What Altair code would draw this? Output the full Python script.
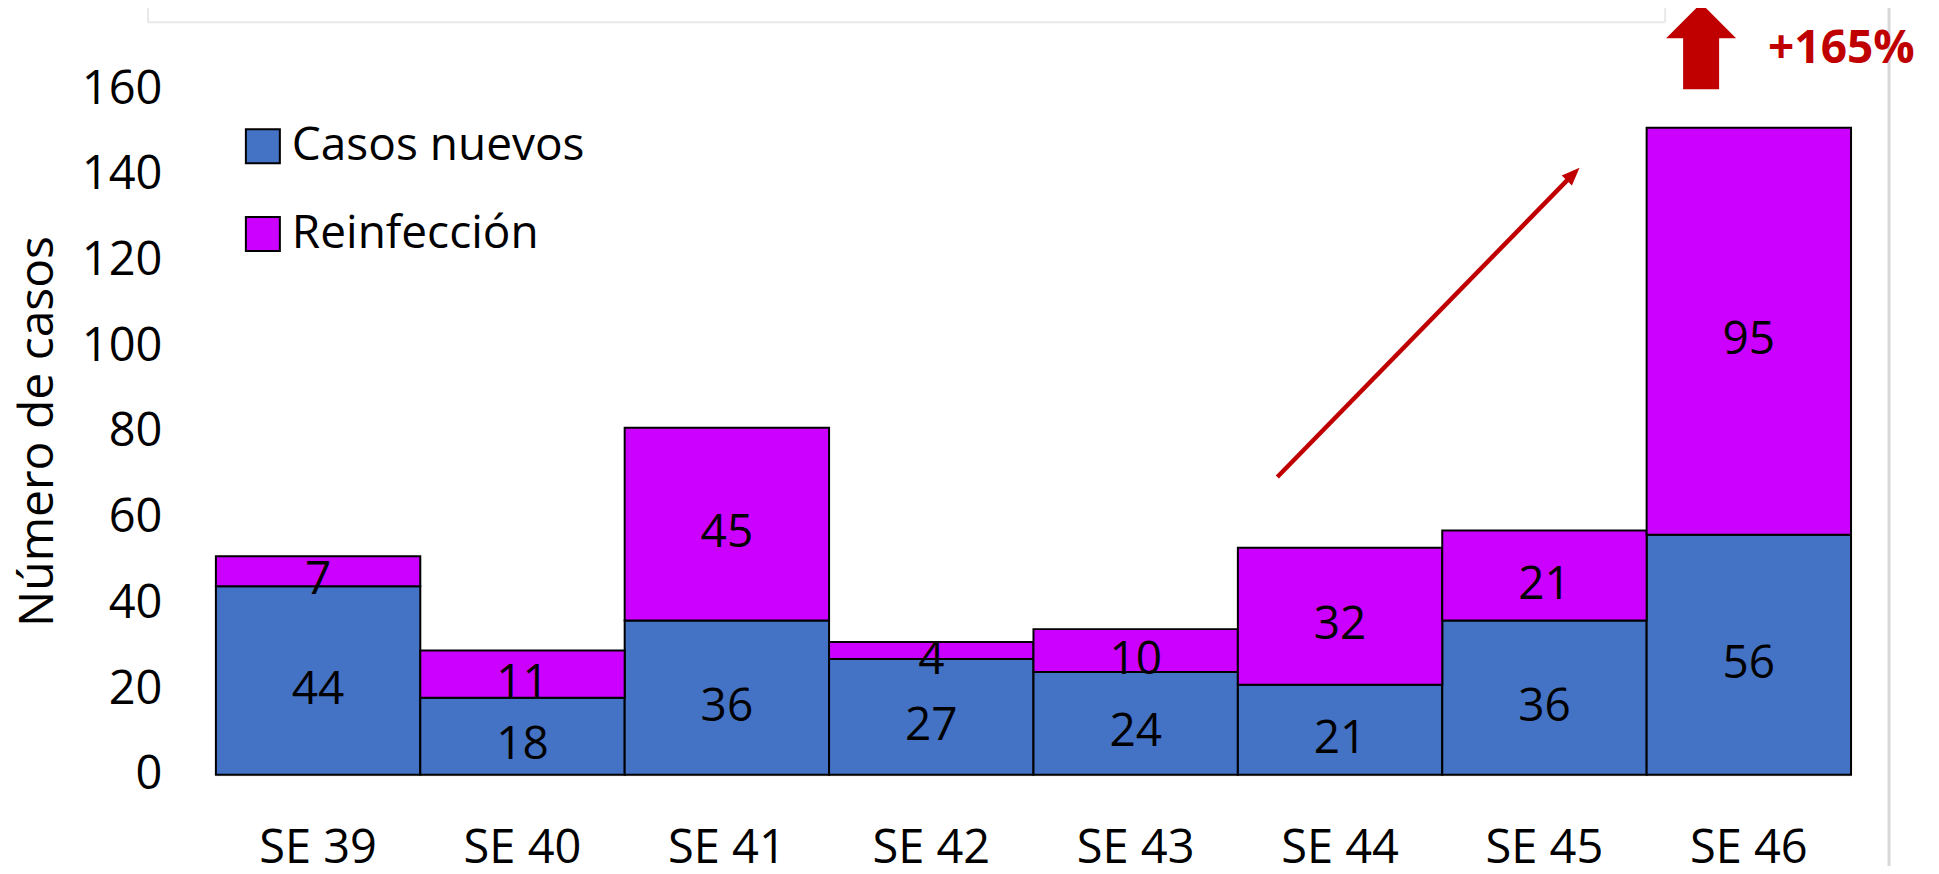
import altair as alt
import pandas as pd

weeks = ["SE 39", "SE 40", "SE 41", "SE 42", "SE 43", "SE 44", "SE 45", "SE 46"]
casos_nuevos = [44, 18, 36, 27, 24, 21, 36, 56]
reinfeccion = [7, 11, 45, 4, 10, 32, 21, 95]
series = ["Casos nuevos", "Reinfección"]
colors = ["#4472C4", "#CC00FF"]
y_ticks = [0, 20, 40, 60, 80, 100, 120, 140, 160]
increase_label = "+165%"

rows = []
for w, a, b in zip(weeks, casos_nuevos, reinfeccion):
    rows.append({"week": w, "serie": series[0], "y0": 0, "y1": a, "mid": a / 2, "val": a, "ord": 0})
    rows.append({"week": w, "serie": series[1], "y0": a, "y1": a + b, "mid": a + b / 2, "val": b, "ord": 1})
df = pd.DataFrame(rows)

FONT = "Open Sans"
RED = "#C00000"

x_enc = alt.X("week:N", sort=weeks,
              scale=alt.Scale(paddingInner=0, paddingOuter=0),
              axis=alt.Axis(title=None, labelAngle=0, ticks=False, labelPadding=51,
                            labelFontSize=47, labelFont=FONT, labelColor="black",
                            domainColor="#d9d9d9", domainWidth=2))
y_scale = alt.Scale(domain=[0, 160], nice=False)

bars = alt.Chart(df).mark_bar(stroke="black", strokeWidth=2, opacity=1).encode(
    x=x_enc,
    y=alt.Y("y1:Q", scale=y_scale,
            axis=alt.Axis(values=y_ticks, domain=False, ticks=False, grid=False,
                          labelPadding=54, labelFontSize=47, labelFont=FONT, labelColor="black",
                          title="Número de casos", titleFont=FONT, titleFontSize=48,
                          titleFontWeight="normal", titleColor="black",
                          titleX=-163, titleY=342, titleAngle=270,
                          titleBaseline="alphabetic", titleAlign="center")),
    y2="y0:Q",
    color=alt.Color("serie:N", scale=alt.Scale(domain=series, range=colors),
                    legend=alt.Legend(orient="none", legendX=24, legendY=34, title=None,
                                      symbolType="square", symbolSize=1156,
                                      symbolStrokeColor="black", symbolStrokeWidth=2,
                                      symbolOpacity=1, labelFontSize=46, labelFont=FONT,
                                      labelColor="black", labelOffset=6, rowPadding=42,
                                      labelLimit=600)),
    order=alt.Order("ord:Q"),
)

labels = alt.Chart(df).mark_text(font=FONT, fontSize=46, color="black",
                                 align="center", baseline="middle", dy=9).encode(
    x=alt.X("week:N", sort=weeks),
    y=alt.Y("mid:Q", scale=y_scale),
    text="val:Q",
)

one = pd.DataFrame({"t": [increase_label]})

trend = alt.Chart(one).mark_rule(color=RED, strokeWidth=4.5).encode(
    x=alt.value(1062), x2=alt.value(1358), y=alt.value(388), y2=alt.value(85))
trend_head = alt.Chart(one).mark_point(
    shape="M0,-1 L0.8,1 L-0.8,1 Z", filled=True, color=RED, opacity=1,
    size=324, angle=45, strokeWidth=0).encode(x=alt.value(1358), y=alt.value(85))

block_arrow = alt.Chart(one).mark_point(
    shape="M0,-1 L0.814,-0.186 L0.419,-0.186 L0.419,1 L-0.419,1 L-0.419,-0.186 L-0.814,-0.186 Z",
    filled=True, color=RED, opacity=1, size=7396, strokeWidth=0).encode(
    x=alt.value(1486), y=alt.value(-43))

pct = alt.Chart(one).mark_text(font=FONT, fontSize=46, fontWeight="bold", color=RED,
                               align="left", baseline="middle").encode(
    x=alt.value(1553), y=alt.value(-40), text="t:N")

side_line = alt.Chart(one).mark_rule(color="#d9d9d9", strokeWidth=3).encode(
    x=alt.value(1674), y=alt.value(-100), y2=alt.value(800))

box_bottom = alt.Chart(one).mark_rule(color="#e8e8e8", strokeWidth=2).encode(
    x=alt.value(-68), x2=alt.value(1450), y=alt.value(-67))
box_left = alt.Chart(one).mark_rule(color="#e8e8e8", strokeWidth=2).encode(
    x=alt.value(-68), y=alt.value(-100), y2=alt.value(-67))
box_right = alt.Chart(one).mark_rule(color="#e8e8e8", strokeWidth=2).encode(
    x=alt.value(1450), y=alt.value(-100), y2=alt.value(-67))

chart = alt.layer(
    box_bottom, box_left, box_right, side_line,
    bars, labels, trend, trend_head, block_arrow, pct
).properties(
    width=1636, height=686,
    background="white",
    autosize=alt.AutoSizeParams(type="none"),
    padding={"left": 208, "top": 81, "right": 80, "bottom": 91},
).configure_view(strokeWidth=0)

chart.save("out.html", embed_options={"renderer": "svg", "actions": False})
